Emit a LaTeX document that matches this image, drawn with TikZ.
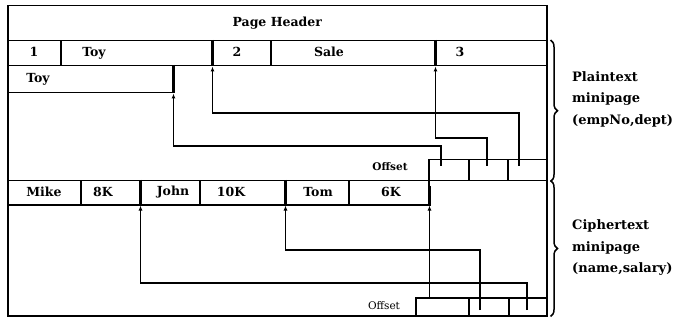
\documentclass[tikz,border=0pt]{standalone}
\usepackage{fontspec}
\setmainfont{DejaVu Serif}
\usepackage{tikz}
\usetikzlibrary{positioning, arrows.meta, decorations.pathreplacing}

\begin{document}
\begin{tikzpicture}[
    x=1pt, y=-1pt,
    >={Latex[length=5pt,width=4pt]},
    cell/.style 2 args={rectangle, draw=black, line width=1.5pt, anchor=north west, inner sep=0pt, minimum width=#1, minimum height=#2},
    txt/.style={font=\bfseries\fontsize{12.5pt}{14pt}\selectfont, inner sep=0pt},
    bar/.style={line width=3.5pt},
    ptr/.style={->, line width=1.4pt},
    brc/.style={decorate, decoration={brace, amplitude=7pt}, line width=1.5pt},
    side/.style={font=\bfseries\fontsize{13pt}{21.5pt}\selectfont, align=left, anchor=west, inner sep=0pt}
]
\useasboundingbox (0,0) rectangle (676,320);

% page frame and header
\node[cell={539pt}{310pt}] (page) at (7,5) {};
\node[cell={539pt}{35pt}, txt] (hdr) at (7,5) {Page Header};

% plaintext records
\node[cell={53pt}{25pt}] (pone) at (7,40) {};
\node[cell={151pt}{25pt}] (ptoy) at (60,40) {};
\node[cell={59pt}{25pt}] (ptwo) at (211,40) {};
\node[cell={164pt}{25pt}] (psale) at (270,40) {};
\node[cell={112pt}{25pt}] (pthree) at (434,40) {};
\node[cell={165pt}{27pt}] (ptoyb) at (7,65) {};

\node[txt] (t1) at (34,52) {1};
\node[txt] (ttoy) at (94,53) {Toy};
\node[txt] (t2) at (237,52) {2};
\node[txt] (tsale) at (329,52) {Sale};
\node[txt] (t3) at (460,52) {3};
\node[txt] (ttoyb) at (38,79) {Toy};

\draw[bar] (ptoy.north east) -- (ptoy.south east);
\draw[bar] (psale.north east) -- (psale.south east);
\draw[bar] (ptoyb.north east) -- (ptoyb.south east);

% plaintext offsets
\node[cell={40pt}{21pt}] (poff1) at (428,159) {};
\node[cell={39pt}{21pt}] (poff2) at (468,159) {};
\node[cell={39pt}{21pt}] (poff3) at (507,159) {};
\node[txt, font=\bfseries\fontsize{10.5pt}{12pt}\selectfont] (poffl) at (390,167) {Offset};

\coordinate (pa1) at (441,166);
\coordinate (pa2) at (487,166);
\coordinate (pa3) at (519,166);
\draw[ptr] (pa1) -- ++(0,-20) -| (ptoyb.south east);
\draw[ptr] (pa2) -- ++(0,-28) -| (psale.south east);
\draw[ptr] (pa3) -- ++(0,-53) -| (ptoy.south east);

% ciphertext records
\node[cell={73pt}{24pt}] (cmike) at (7,180) {};
\node[cell={59pt}{24pt}] (c8k) at (80,180) {};
\node[cell={60pt}{24pt}] (cjohn) at (139,180) {};
\node[cell={85pt}{24pt}] (c10k) at (199,180) {};
\node[cell={64pt}{24pt}] (ctom) at (284,180) {};
\node[cell={80pt}{24pt}] (c6k) at (348,180) {};

\node[txt] (tmike) at (44,192) {Mike};
\node[txt] (t8k) at (103,192) {8K};
\node[txt] (tjohn) at (173,192) {John};
\node[txt] (t10k) at (231,192) {10K};
\node[txt] (ttom) at (318,192) {Tom};
\node[txt] (t6k) at (391,192) {6K};

\draw[bar] (c8k.north east) -- (c8k.south east);
\draw[bar] (c10k.north east) -- (c10k.south east);
\draw[bar] ([yshift=-6pt]c6k.north east) -- (c6k.south east);

% ciphertext offsets
\node[cell={53pt}{18pt}] (coff1) at (415,297) {};
\node[cell={40pt}{18pt}] (coff2) at (468,297) {};
\node[cell={38pt}{18pt}] (coff3) at (508,297) {};
\node[txt, font=\fontsize{10.5pt}{12pt}\selectfont] (coffl) at (384,306) {Offset};

\coordinate (ca2) at (480,310);
\coordinate (ca3) at (527,310);
\draw[ptr] (c6k.south east |- coff1.north) -- (c6k.south east);
\draw[ptr] (ca2) -- ++(0,-60) -| (c10k.south east);
\draw[ptr] (ca3) -- ++(0,-27) -| (c8k.south east);

% minipage braces
\draw[brc] ([xshift=3pt]pthree.north east) -- ([xshift=3pt]poff3.south east);
\draw[brc] ([xshift=3pt,yshift=1pt]poff3.south east) -- ([xshift=3pt]coff3.south east);
\node[side] (plab) at (572,99) {Plaintext\\minipage\\(empNo,dept)};
\node[side] (clab) at (572,248) {Ciphertext\\minipage\\(name,salary)};

\end{tikzpicture}
\end{document}
